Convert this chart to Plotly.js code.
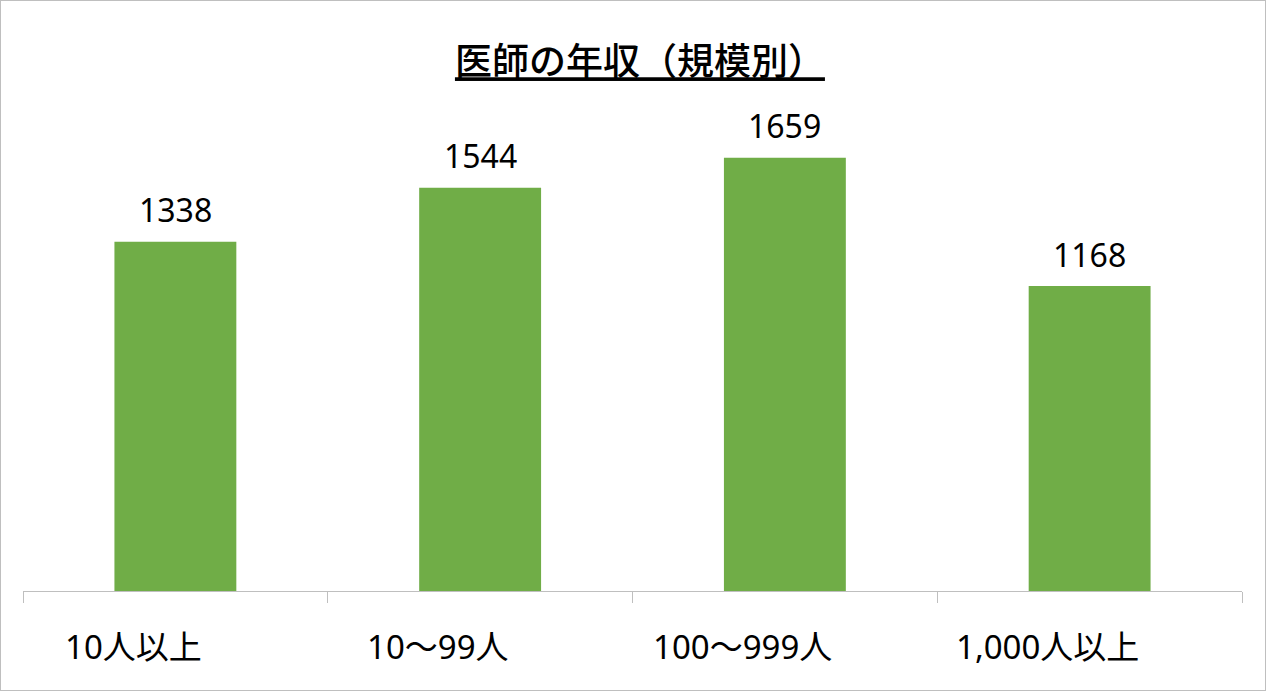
<!DOCTYPE html>
<html>
<head>
<meta charset="utf-8">
<script src="https://cdn.plot.ly/plotly-3.0.1.min.js"></script>
<style>
  body { margin: 0; background: #fff; }
  #chart { width: 1266px; height: 691px; box-sizing: border-box; border: 1px solid #bfbfbf; }
</style>
</head>
<body>
<div id="chart"></div>
<script>
// 医師の年収（規模別）
const categories = ["10人以上", "10〜99人", "100〜999人", "1,000人以上"]
const salaries = [1338, 1544, 1659, 1168]

const font = "Noto Sans, Noto Sans CJK JP, sans-serif"

const labelNotes = categories.map(function (c, i) {
    return {
        x: i, y: 0, xref: "x", yref: "y",
        text: c, showarrow: false,
        xanchor: "center", yanchor: "middle",
        xshift: -42, yshift: -55,
        font: {family: font, size: 33, color: "#000"}
    }
})

const valueNotes = salaries.map(function (v, i) {
    return {
        x: i, y: v, xref: "x", yref: "y",
        text: String(v), showarrow: false,
        xanchor: "center", yanchor: "middle",
        yshift: 32,
        font: {family: font, size: 32, color: "#000"}
    }
})

const data = [{
    type: "bar",
    x: categories.map(function (c, i) { return i }),
    y: salaries,
    marker: {color: "#70ad47"},
    hoverinfo: "skip"
}]

const layout = {
    width: 1264,
    height: 689,
    margin: {l: 22, r: 23, t: 120, b: 99},
    paper_bgcolor: "#fff",
    plot_bgcolor: "#fff",
    bargap: 0.6,
    showlegend: false,
    title: {
        text: "医師の年収（規模別）",
        x: 0.5055, xref: "container", xanchor: "center",
        y: 0.911, yref: "container", yanchor: "middle",
        font: {family: "Noto Sans CJK JP", size: 37, color: "#000", weight: 500, lineposition: "under"}
    },
    xaxis: {
        type: "linear",
        range: [-0.5, 3.5],
        showgrid: false,
        zeroline: false,
        showline: true,
        linecolor: "#bfbfbf",
        linewidth: 1,
        ticks: "outside",
        tickvals: [-0.5, 0.5, 1.5, 2.5, 3.5],
        ticklen: 11,
        tickcolor: "#bfbfbf",
        showticklabels: false,
        fixedrange: true
    },
    yaxis: {
        range: [0, 1800],
        visible: false,
        showgrid: false,
        zeroline: false,
        fixedrange: true
    },
    annotations: labelNotes.concat(valueNotes)
}

Plotly.newPlot("chart", data, layout, {displayModeBar: false, staticPlot: true})
</script>
</body>
</html>
